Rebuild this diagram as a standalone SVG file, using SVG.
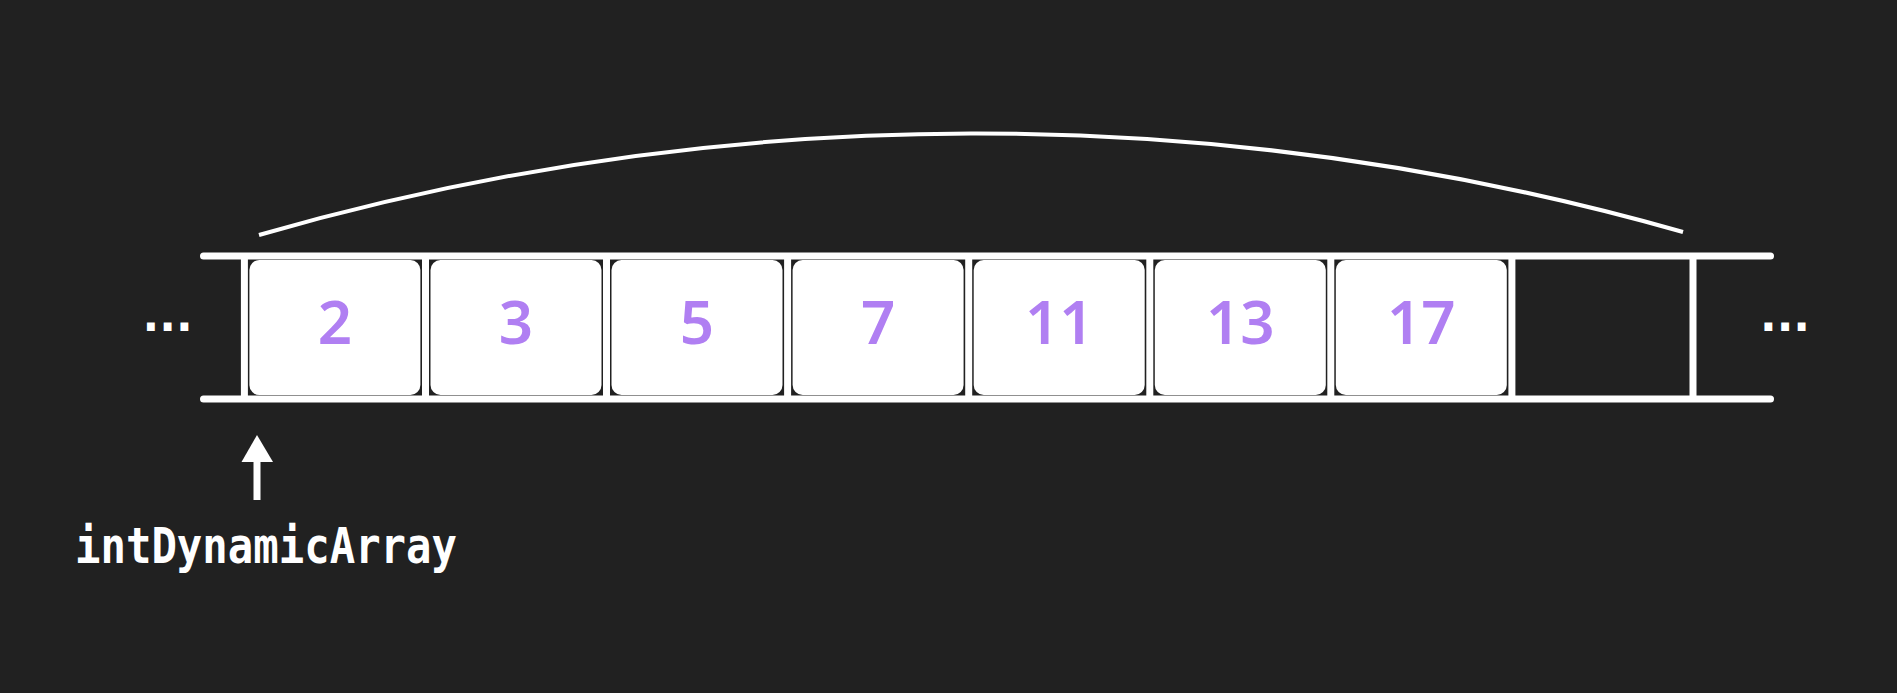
<svg xmlns="http://www.w3.org/2000/svg" width="1897" height="693" viewBox="0 0 1897 693">
  <style>
    .rail { stroke: #ffffff; stroke-width: 7; stroke-linecap: round; fill: none; }
    .div { stroke: #ffffff; stroke-width: 7; fill: none; }
    .box { fill: #ffffff; }
    .num { font-family: "Noto Sans", "Open Sans", sans-serif; font-weight: 600; font-size: 60px; fill: #b07ff2; text-anchor: middle; }
    .dots { font-family: "DejaVu Sans", sans-serif; font-weight: bold; font-size: 44px; fill: #ffffff; text-anchor: middle; }
    .label { font-family: "DejaVu Sans Mono", "Liberation Mono", monospace; font-weight: bold; font-size: 50px; fill: #ffffff; }
    .arc { stroke: #ffffff; stroke-width: 4; fill: none; }
  </style>
  <rect x="0" y="0" width="1897" height="693" fill="#212121"/>

  <g id="array-frame">
    <line class="rail" x1="203.5" y1="256" x2="1770.5" y2="256"/>
    <line class="rail" x1="203.5" y1="399" x2="1770.5" y2="399"/>
    <line class="div" x1="244.4" y1="256" x2="244.4" y2="399"/>
    <line class="div" x1="425.5" y1="256" x2="425.5" y2="399"/>
    <line class="div" x1="606.5" y1="256" x2="606.5" y2="399"/>
    <line class="div" x1="787.6" y1="256" x2="787.6" y2="399"/>
    <line class="div" x1="968.7" y1="256" x2="968.7" y2="399"/>
    <line class="div" x1="1149.8" y1="256" x2="1149.8" y2="399"/>
    <line class="div" x1="1330.8" y1="256" x2="1330.8" y2="399"/>
    <line class="div" x1="1511.9" y1="256" x2="1511.9" y2="399"/>
    <line class="div" x1="1693" y1="256" x2="1693" y2="399"/>
  </g>

  <g id="cell-0"><rect class="box" x="249.4" y="260" width="171" height="135" rx="10"/><text class="num" x="334.9" y="344">2</text></g>
  <g id="cell-1"><rect class="box" x="430.5" y="260" width="171" height="135" rx="10"/><text class="num" x="516" y="344">3</text></g>
  <g id="cell-2"><rect class="box" x="611.5" y="260" width="171" height="135" rx="10"/><text class="num" x="697" y="344">5</text></g>
  <g id="cell-3"><rect class="box" x="792.6" y="260" width="171" height="135" rx="10"/><text class="num" x="878.1" y="344">7</text></g>
  <g id="cell-4"><rect class="box" x="973.7" y="260" width="171" height="135" rx="10"/><text class="num" x="1059.2" y="344">11</text></g>
  <g id="cell-5"><rect class="box" x="1154.8" y="260" width="171" height="135" rx="10"/><text class="num" x="1240.3" y="344">13</text></g>
  <g id="cell-6"><rect class="box" x="1335.8" y="260" width="171" height="135" rx="10"/><text class="num" x="1421.3" y="344">17</text></g>
  <g id="cell-7"></g>

  <g id="ellipsis-left"><text class="dots" x="167.7" y="331">...</text></g>
  <g id="ellipsis-right"><text class="dots" x="1785" y="331">...</text></g>

  <g id="pointer-label"><text class="label" x="75" y="563" textLength="382" lengthAdjust="spacingAndGlyphs">intDynamicArray</text></g>

  <g id="connectors">
    <path class="arc" d="M259 235 A 2585 2585 0 0 1 1683 232"/>
    <rect x="253.5" y="460" width="7" height="40" fill="#ffffff"/>
    <polygon points="241.5,462 273,462 257,435" fill="#ffffff"/>
  </g>
</svg>
